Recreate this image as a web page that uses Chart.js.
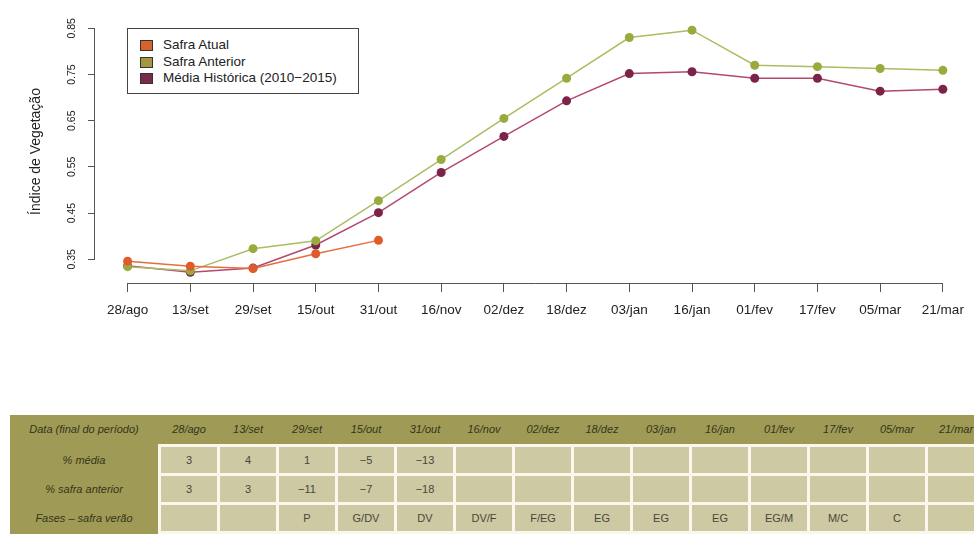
<!DOCTYPE html>
<html>
<head>
<meta charset="utf-8">
<script src="https://cdn.jsdelivr.net/npm/chart.js@4.4.1/dist/chart.umd.min.js"></script>
<style>
  html, body { margin:0; padding:0; background:#fff; width:974px; height:534px; overflow:hidden; font-family:"Liberation Sans", Arial, sans-serif; }
  #wrap { position:absolute; left:0; top:0; width:974px; height:340px; }
  #legend { position:absolute; left:127px; top:28px; width:230px; height:64px; border:1px solid #444; background:#fff; }
  .lg-row { position:absolute; left:0; height:16px; line-height:16px; font-size:13.5px; color:#222; white-space:nowrap; }
  .lg-sw { position:absolute; left:12px; top:3px; width:11px; height:9px; border:1px solid #333; }
  .lg-tx { position:absolute; left:35px; top:0; }
  #table { position:absolute; left:10px; top:415px; width:1000px; height:130px; background:#9f9b56; }
  .t { position:absolute; font-size:11px; text-align:center; white-space:nowrap; }
  .hd { font-style:italic; color:#35341a; }
  .cell { position:absolute; background:#cdc9a2; }
  .val { color:#48473a; }
</style>
</head>
<body>
<div id="wrap"><canvas id="c" width="974" height="340"></canvas></div>
<div id="legend"></div>
<div id="table"></div>
<script>
// ---- data ----
const categories = ['28/ago','13/set','29/set','15/out','31/out','16/nov','02/dez','18/dez','03/jan','16/jan','01/fev','17/fev','05/mar','21/mar'];
const safraAtual = [0.346, 0.335, 0.330, 0.362, 0.391, null, null, null, null, null, null, null, null, null];
const safraAnterior = [0.334, 0.325, 0.373, 0.390, 0.477, 0.566, 0.655, 0.742, 0.830, 0.846, 0.770, 0.767, 0.763, 0.759];
const mediaHistorica = [0.336, 0.322, 0.331, 0.381, 0.451, 0.538, 0.616, 0.693, 0.752, 0.756, 0.742, 0.742, 0.714, 0.718];
const yTicks = [0.35, 0.45, 0.55, 0.65, 0.75, 0.85];
const seriesNames = ['Safra Atual', 'Safra Anterior', 'Média Histórica (2010−2015)'];
// table rows
const rowLabels = ['Data (final do período)', '% média', '% safra anterior', 'Fases – safra verão'];
const pctMedia = [3, 4, 1, -5, -13, null, null, null, null, null, null, null, null, null];
const pctSafraAnterior = [3, 3, -11, -7, -18, null, null, null, null, null, null, null, null, null];
const fases = ['', '', 'P', 'G/DV', 'DV', 'DV/F', 'F/EG', 'EG', 'EG', 'EG', 'EG/M', 'M/C', 'C', ''];

// ---- styles ----
const pointColors = ['#df5c2a', '#9aab3e', '#7b2449'];
const lineColors = ['#e56d3f', '#aabd62', '#b4486f'];
const swatchColors = ['#d9612c', '#a39842', '#7a2a4a'];

const toXY = arr => arr.map((v, i) => ({x: i, y: v}));

const axisLines = {
  id: 'axisLines',
  afterDraw(chart) {
    const {ctx, chartArea, scales: {x, y}} = chart;
    ctx.save();
    ctx.strokeStyle = '#555';
    ctx.lineWidth = 1;
    ctx.beginPath();
    const yb = Math.round(chartArea.bottom) + 0.5;
    ctx.moveTo(x.getPixelForValue(0), yb);
    ctx.lineTo(x.getPixelForValue(categories.length - 1), yb);
    const xl = Math.round(chartArea.left) - 0.5;
    ctx.moveTo(xl, y.getPixelForValue(yTicks[0]));
    ctx.lineTo(xl, y.getPixelForValue(yTicks[yTicks.length - 1]));
    ctx.stroke();
    ctx.restore();
  }
};

const mk = (i, arr) => ({
  label: seriesNames[i],
  data: toXY(arr),
  borderColor: lineColors[i],
  backgroundColor: pointColors[i],
  pointBackgroundColor: pointColors[i],
  pointBorderColor: pointColors[i],
  pointBorderWidth: 0,
  pointRadius: 4.5,
  borderWidth: 1.5,
  tension: 0,
  spanGaps: false
});

new Chart(document.getElementById('c'), {
  type: 'line',
  data: { datasets: [mk(0, safraAtual), mk(1, safraAnterior), mk(2, mediaHistorica)] },
  options: {
    responsive: false,
    animation: false,
    events: [],
    layout: { padding: { top: 20, left: 0, right: 0, bottom: 0 } },
    plugins: { legend: { display: false }, tooltip: { enabled: false } },
    scales: {
      x: {
        type: 'linear',
        min: -0.52,
        max: 13.4,
        afterBuildTicks: s => { s.ticks = categories.map((c, i) => ({ value: i })); },
        afterFit: s => { s.height = 57; },
        grid: { drawOnChartArea: false, drawTicks: true, tickLength: 9, color: '#555', lineWidth: 1 },
        border: { display: false },
        ticks: {
          autoSkip: false, maxRotation: 0, padding: 10, color: '#222',
          font: { family: 'Liberation Sans', size: 13.5 },
          callback: v => categories[v]
        }
      },
      y: {
        min: 0.2987,
        max: 0.868,
        afterBuildTicks: s => { s.ticks = yTicks.map(v => ({ value: v })); },
        afterFit: s => { s.width = 95; },
        grid: { drawOnChartArea: false, drawTicks: true, tickLength: 7, color: '#555', lineWidth: 1 },
        border: { display: false },
        ticks: {
          autoSkip: false, minRotation: 90, maxRotation: 90, crossAlign: 'center', padding: 6,
          color: '#222', font: { family: 'Liberation Sans', size: 10.5 },
          callback: v => Number(v).toFixed(2)
        },
        title: {
          display: true, text: 'Índice de Vegetação', color: '#222',
          font: { family: 'Liberation Sans', size: 14 },
          padding: { top: 28, bottom: 0 }
        }
      }
    }
  },
  plugins: [axisLines]
});

// ---- legend (HTML) ----
const lg = document.getElementById('legend');
seriesNames.forEach((n, i) => {
  const r = document.createElement('div');
  r.className = 'lg-row';
  r.style.top = (8 + i * 16.5) + 'px';
  r.innerHTML = '<span class="lg-sw" style="background:' + swatchColors[i] + '"></span><span class="lg-tx">' + n + '</span>';
  lg.appendChild(r);
});

// ---- table (HTML) ----
const tb = document.getElementById('table');
const colPitch = 59, colLeft = 148, labelW = 148;
const rowTops = [0, 32, 61, 90];
const rowH = [28, 26, 26, 26];
const fmt = v => (v === null || v === undefined || v === '') ? '' : (typeof v === 'number' ? (v < 0 ? '−' + Math.abs(v) : String(v)) : v);
const grid = document.createElement('div');
grid.style.cssText = 'position:absolute;left:' + colLeft + 'px;top:29px;width:900px;height:110px;background:#fbf7ec;';
tb.appendChild(grid);
function addText(txt, left, top, w, h, cls) {
  const d = document.createElement('div');
  d.className = 't ' + cls;
  d.style.left = left + 'px'; d.style.top = top + 'px'; d.style.width = w + 'px';
  d.style.height = h + 'px'; d.style.lineHeight = h + 'px';
  d.textContent = txt;
  tb.appendChild(d);
}
rowLabels.forEach((t, r) => addText(t, 0, rowTops[r], labelW, rowH[r], 'hd'));
const rows = [pctMedia, pctSafraAnterior, fases];
categories.forEach((c, k) => {
  const left = colLeft + 3 + k * colPitch;
  addText(c, left, rowTops[0], colPitch - 3, rowH[0], 'hd');
  rows.forEach((arr, r) => {
    const cell = document.createElement('div');
    cell.className = 'cell';
    cell.style.left = left + 'px'; cell.style.top = rowTops[r + 1] + 'px';
    cell.style.width = (colPitch - 3) + 'px'; cell.style.height = rowH[r + 1] + 'px';
    tb.appendChild(cell);
    addText(fmt(arr[k]), left, rowTops[r + 1], colPitch - 3, rowH[r + 1], 'val');
  });
});
</script>
</body>
</html>
